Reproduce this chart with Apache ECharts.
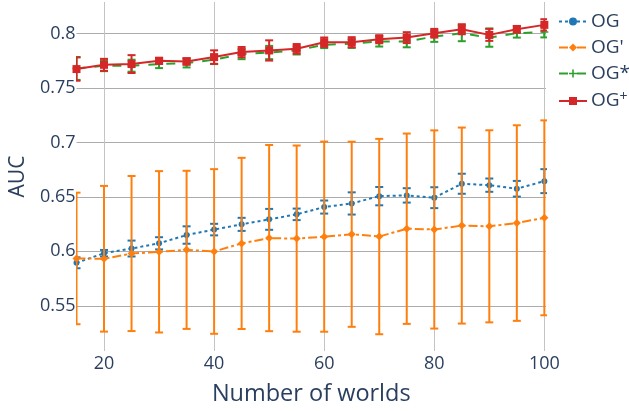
<!DOCTYPE html>
<html>
<head>
<meta charset="utf-8">
<script src="https://cdn.jsdelivr.net/npm/echarts@6/dist/echarts.min.js"></script>
<style>
html,body{margin:0;padding:0;background:#fff;}
#chart{width:629px;height:411px;}
</style>
</head>
<body>
<div id="chart"></div>
<script>
// ---- data ----
const worlds = [15,20,25,30,35,40,45,50,55,60,65,70,75,80,85,90,95,100];

const ogMean   = [0.5895,0.5983,0.6026,0.6074,0.6150,0.6200,0.6248,0.6294,0.6340,0.6407,0.6440,0.6507,0.6514,0.6493,0.6621,0.6608,0.6575,0.6645];
const ogErr    = [0.0050,0.0030,0.0073,0.0056,0.0080,0.0053,0.0060,0.0096,0.0053,0.0060,0.0102,0.0084,0.0066,0.0096,0.0092,0.0061,0.0072,0.0110];

const ogpMean  = [0.5935,0.5932,0.5980,0.5996,0.6014,0.5999,0.6073,0.6122,0.6117,0.6135,0.6157,0.6136,0.6208,0.6201,0.6237,0.6230,0.6260,0.6308];
const ogpErr   = [0.0604,0.0669,0.0712,0.0741,0.0726,0.0756,0.0786,0.0855,0.0855,0.0873,0.0850,0.0897,0.0874,0.0910,0.0900,0.0882,0.0898,0.0895];

const ogsMean  = [0.7680,0.7705,0.7705,0.7720,0.7729,0.7760,0.7811,0.7826,0.7845,0.7897,0.7908,0.7927,0.7927,0.7973,0.8003,0.7963,0.8003,0.8015];
const ogsErr   = [0.0105,0.0050,0.0055,0.0037,0.0040,0.0040,0.0046,0.0061,0.0037,0.0030,0.0040,0.0046,0.0053,0.0049,0.0073,0.0084,0.0040,0.0050];

const ogplMean = [0.7674,0.7713,0.7720,0.7750,0.7744,0.7784,0.7830,0.7845,0.7860,0.7921,0.7921,0.7948,0.7963,0.8003,0.8040,0.7988,0.8040,0.8080];
const ogplErr  = [0.0107,0.0055,0.0082,0.0027,0.0030,0.0062,0.0047,0.0093,0.0044,0.0043,0.0046,0.0037,0.0050,0.0040,0.0046,0.0055,0.0030,0.0052];

const seriesNames = ['OG', "OG'", 'OG*', 'OG+'];
const xTicks = [20, 40, 60, 80, 100];
const yTicks = [0.55, 0.6, 0.65, 0.7, 0.75, 0.8];
const yTickLabels = ['0.55', '0.6', '0.65', '0.7', '0.75', '0.8'];

// ---- styling ----
const colors = ['#1f77b4', '#ff7f0e', '#2ca02c', '#d62728'];
const FONT = 'Open Sans';
const TXT = '#2a3f5f';

function pts(mean) { return worlds.map((x, i) => [x, mean[i]]); }
function errData(mean, err) { return worlds.map((x, i) => [x, mean[i] - err[i], mean[i] + err[i]]); }

function errRender(color, capHalf, lw) {
  return function (params, api) {
    const x = api.value(0), lo = api.value(1), hi = api.value(2);
    const a = api.coord([x, hi]), b = api.coord([x, lo]);
    const st = { stroke: color, lineWidth: lw, fill: null };
    return {
      type: 'group',
      children: [
        { type: 'line', shape: { x1: a[0], y1: a[1], x2: b[0], y2: b[1] }, style: st },
        { type: 'line', shape: { x1: a[0] - capHalf, y1: a[1], x2: a[0] + capHalf, y2: a[1] }, style: st },
        { type: 'line', shape: { x1: b[0] - capHalf, y1: b[1], x2: b[0] + capHalf, y2: b[1] }, style: st }
      ]
    };
  };
}

const plusPath = 'path://M4,0H6V4H10V6H6V10H4V6H0V4H4Z';

const lineDefs = [
  { mean: ogMean,   err: ogErr,   symbol: 'circle',  size: 6, dash: [3, 3] },
  { mean: ogpMean,  err: ogpErr,  symbol: 'diamond', size: 8, dash: [9, 3, 3, 3] },
  { mean: ogsMean,  err: ogsErr,  symbol: plusPath,  size: 8, dash: [9, 9] },
  { mean: ogplMean, err: ogplErr, symbol: 'rect',    size: 8, dash: 'solid' }
];

const series = [];
lineDefs.forEach((d, i) => {
  series.push({
    type: 'custom',
    name: 'err' + i,
    data: errData(d.mean, d.err),
    renderItem: errRender(colors[i], 4, 2),
    clip: true,
    z: 2 + i * 2,
    silent: true,
    encode: { x: 0, y: [1, 2] }
  });
  series.push({
    type: 'line',
    name: seriesNames[i],
    data: pts(d.mean),
    symbol: d.symbol,
    symbolSize: d.size,
    showSymbol: true,
    clip: true,
    z: 3 + i * 2,
    itemStyle: { color: colors[i] },
    lineStyle: { color: colors[i], width: 2, type: d.dash },
    animation: false
  });
});

const chart = echarts.init(document.getElementById('chart'), null, { renderer: 'canvas' });
chart.setOption({
  animation: false,
  backgroundColor: '#fff',
  textStyle: { fontFamily: FONT },
  grid: { left: 73, right: 83, top: 2, bottom: 59, containLabel: false },
  legend: {
    data: seriesNames,
    orient: 'vertical',
    left: 558,
    top: 12,
    padding: 0,
    itemWidth: 28,
    itemHeight: 10,
    itemGap: 7,
    textStyle: {
      fontFamily: FONT, fontSize: 19, color: TXT, padding: [0, 0, 0, -1],
      rich: {
        a: { fontFamily: FONT, fontSize: 19, color: TXT },
        s: { fontFamily: FONT, fontSize: 14, color: TXT, verticalAlign: 'top', padding: [0, 0, 8, 0] }
      }
    },
    formatter: function (n) { return n === 'OG+' ? '{a|OG}{s|+}' : n; }
  },
  xAxis: {
    type: 'value',
    min: 15,
    max: 100.3,
    name: 'Number of worlds',
    nameLocation: 'middle',
    nameGap: 31,
    nameTextStyle: { fontFamily: FONT, fontSize: 23.5, color: TXT },
    axisLine: { show: false },
    axisTick: { show: false, customValues: xTicks },
    axisLabel: { customValues: xTicks, fontFamily: FONT, fontSize: 18, color: TXT, margin: 4 },
    splitLine: { show: true, lineStyle: { color: '#c4c4c4', width: 1 } }
  },
  yAxis: {
    type: 'value',
    min: 0.5085,
    max: 0.829,
    name: 'AUC',
    nameLocation: 'middle',
    nameGap: 45,
    nameTextStyle: { fontFamily: FONT, fontSize: 21, color: TXT },
    axisLine: { show: false },
    axisTick: { show: false, customValues: yTicks },
    axisLabel: {
      customValues: yTicks, fontFamily: FONT, fontSize: 18, color: TXT, margin: 1,
      formatter: function (v) {
        const k = yTicks.findIndex(t => Math.abs(t - v) < 1e-9);
        return k >= 0 ? yTickLabels[k] : '';
      }
    },
    splitLine: { show: true, lineStyle: { color: '#acacac', width: 1 } }
  },
  series: series
});
</script>
</body>
</html>
